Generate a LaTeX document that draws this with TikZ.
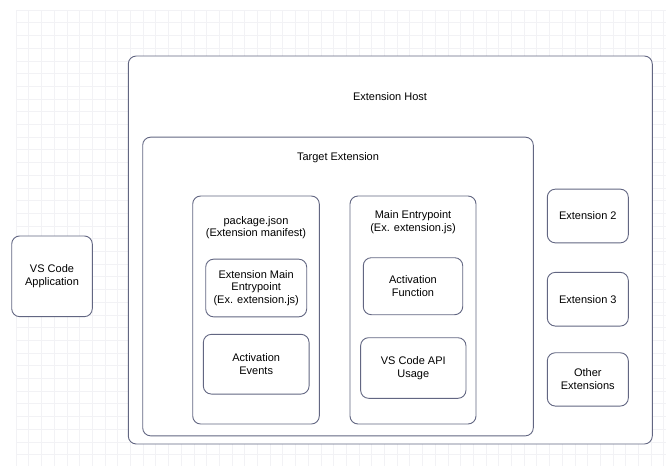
\documentclass[tikz,border=0pt]{standalone}
\usepackage{fontspec}
\setmainfont{Liberation Sans}
\definecolor{edge}{RGB}{98,102,130}
\definecolor{gridc}{RGB}{242,242,245}
\begin{document}
\begin{tikzpicture}[x=1pt,y=-1pt,
  box/.style={draw=edge, line width=0.9pt, rounded corners=8pt, fill=white, inner sep=0pt, align=center, font=\fontsize{11}{12.7}\selectfont},
  lbl/.style={inner sep=0pt, align=center, font=\fontsize{11}{12.7}\selectfont}]
\useasboundingbox (0,0) rectangle (666,466);
% grid
\foreach \i in {0,...,51} {\draw[gridc, line width=0.6pt] ({16+12.7*\i},10) -- ({16+12.7*\i},466);}
\foreach \j in {0,...,36} {\draw[gridc, line width=0.6pt] (16,{10+12.7*\j}) -- (666,{10+12.7*\j});}
% containers
\node[box, minimum width=524pt, minimum height=388pt] (host) at (390.3,250) {};
\node[lbl] (hostt) at (390,97) {Extension Host};
\node[box, minimum width=390.6pt, minimum height=298.7pt] (target) at (338,286.5) {};
\node[lbl] (targett) at (338,158) {Target Extension};
\node[box, minimum width=126.6pt, minimum height=228pt] (pkg) at (256,310) {};
\node[lbl] (pkgt) at (256,227.5) {package.json\\(Extension manifest)};
\node[box, minimum width=126pt, minimum height=228pt] (main) at (413,310) {};
\node[lbl] (maint) at (413,222.5) {Main Entrypoint\\(Ex. extension.js)};
% inner boxes
\node[box, minimum width=101pt, minimum height=57.7pt] (eme) at (256.2,288) {Extension Main\\Entrypoint\\(Ex. extension.js)};
\node[box, minimum width=105.7pt, minimum height=59.7pt] (ae) at (256.2,364.2) {Activation\\Events};
\node[box, minimum width=99.4pt, minimum height=57pt] (af) at (413,286.2) {Activation\\Function};
\node[box, minimum width=105.3pt, minimum height=60.6pt] (api) at (413.3,368) {VS Code API\\Usage};
\node[box, minimum width=81pt, minimum height=53.7pt] (e2) at (587.8,216) {Extension 2};
\node[box, minimum width=81pt, minimum height=53.7pt] (e3) at (587.8,299.2) {Extension 3};
\node[box, minimum width=81pt, minimum height=53.3pt] (oth) at (587.8,379.4) {Other\\Extensions};
\node[box, minimum width=80.6pt, minimum height=80.7pt] (app) at (52,276.3) {VS Code\\Application};
\end{tikzpicture}
\end{document}
